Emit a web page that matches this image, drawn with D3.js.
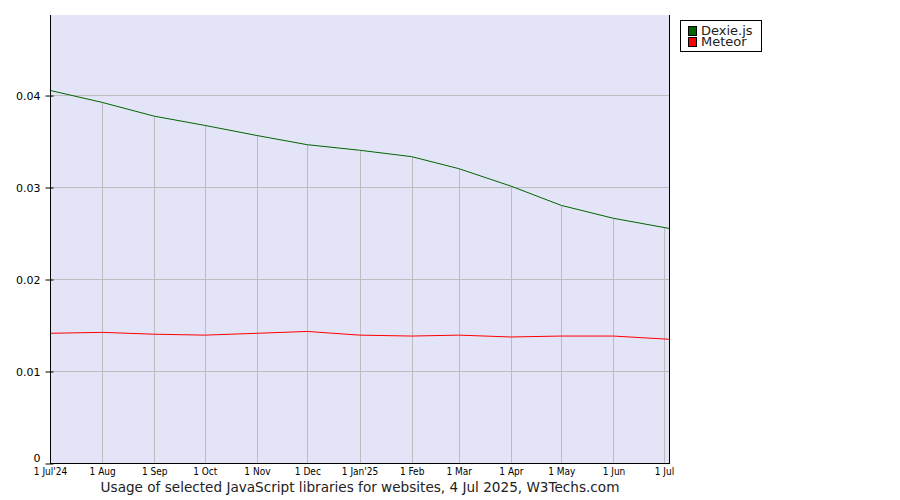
<!DOCTYPE html>
<html><head><meta charset="utf-8">
<script src="https://cdn.jsdelivr.net/npm/d3@7"></script>
<style>body{margin:0;background:#fff}svg{display:block}</style>
</head><body>
<svg id="c" width="900" height="500"></svg>
<script>
const dates = ["2024-07-01","2024-08-01","2024-09-01","2024-10-01","2024-11-01","2024-12-01","2025-01-01","2025-02-01","2025-03-01","2025-04-01","2025-05-01","2025-06-01","2025-07-04"];
const dexie = [0.0405,0.0392,0.0377,0.0367,0.0356,0.0346,0.0340,0.0333,0.0320,0.0301,0.0280,0.0266,0.0255];
const meteor = [0.0141,0.0142,0.0140,0.0139,0.0141,0.0143,0.0139,0.0138,0.0139,0.0137,0.0138,0.0138,0.01345];
const seriesNames = ["Dexie.js","Meteor"];
const seriesColors = ["#006400","#ff0000"];
const tickDates = ["2024-07-01","2024-08-01","2024-09-01","2024-10-01","2024-11-01","2024-12-01","2025-01-01","2025-02-01","2025-03-01","2025-04-01","2025-05-01","2025-06-01","2025-07-01"];
const tickLabels = ["1 Jul'24","1 Aug","1 Sep","1 Oct","1 Nov","1 Dec","1 Jan'25","1 Feb","1 Mar","1 Apr","1 May","1 Jun","1 Jul"];
const yTicks = [0,0.01,0.02,0.03,0.04];
const title = "Usage of selected JavaScript libraries for websites, 4 Jul 2025, W3Techs.com";

const parse = d3.utcParse("%Y-%m-%d");
const D = dates.map(parse);
const svg = d3.select("#c");
const L=50,R=669,T=15,B=463;
const x = d3.scaleUtc().domain([parse("2024-07-01"), parse("2025-07-04")]).range([L,R]);
const y = d3.scaleLinear().domain([0,0.0487]).range([B,T]);

svg.append("rect").attr("x",L).attr("y",T).attr("width",R-L).attr("height",B-T).attr("fill","#e4e4f8");

// horizontal grid
svg.append("g").selectAll("line").data(yTicks.filter(v=>v>0)).join("line")
  .attr("x1",L).attr("x2",R).attr("y1",d=>y(d)+0.5).attr("y2",d=>y(d)+0.5)
  .attr("stroke","#bcbcbc").attr("stroke-width",1);

// vertical grid up to top series
const all = [dexie, meteor];
function topAt(t){
  let best=0;
  for(const s of all){
    const i = d3.bisector(d=>d).right(D,t)-1;
    let v;
    if(i>=D.length-1) v=s[D.length-1];
    else { const f=(t-D[i])/(D[i+1]-D[i]); v=s[i]+(s[i+1]-s[i])*f; }
    best=Math.max(best,v);
  }
  return best;
}
const TD = tickDates.map(parse);
svg.append("g").selectAll("line").data(TD.slice(1)).join("line")
  .attr("x1",d=>Math.round(x(d))+0.5).attr("x2",d=>Math.round(x(d))+0.5)
  .attr("y1",B).attr("y2",d=>y(topAt(d)))
  .attr("stroke","#bcbcbc").attr("stroke-width",1);

// lines
const line = d3.line().x((d,i)=>x(D[i])).y(d=>y(d));
all.forEach((s,k)=>{
  svg.append("path").datum(s).attr("d",line).attr("fill","none")
    .attr("stroke",seriesColors[k]).attr("stroke-width",1);
});

// axes
svg.append("line").attr("x1",L+0.5).attr("x2",L+0.5).attr("y1",T).attr("y2",B+1).attr("stroke","#000");
svg.append("line").attr("x1",R+0.5).attr("x2",R+0.5).attr("y1",T).attr("y2",B+1).attr("stroke","#000");
svg.append("line").attr("x1",L).attr("x2",R+1).attr("y1",B+0.5).attr("y2",B+0.5).attr("stroke","#000");

const yAx = svg.append("g").attr("transform",`translate(${L+0.5},0.5)`)
  .call(d3.axisLeft(y).tickValues(yTicks).tickSize(4).tickPadding(6).tickFormat(d=>d===0?"0":d3.format(".2f")(d)));
yAx.select(".domain").remove();
yAx.selectAll(".tick line").attr("x2",3).attr("x1",-5).attr("stroke","#000");
yAx.selectAll("text").attr("font-family","'DejaVu Sans',Verdana,sans-serif").attr("font-size",11).attr("fill","#000");
yAx.selectAll(".tick").filter(d=>d===0).select("text").attr("dy","-0.2em");

const xAx = svg.append("g").attr("transform",`translate(0,${B})`)
  .call(d3.axisBottom(x).tickValues(TD).tickSize(0).tickPadding(5).tickFormat((d,i)=>tickLabels[i]));
xAx.select(".domain").remove();
xAx.selectAll("text").attr("font-family","'DejaVu Sans Condensed','DejaVu Sans',sans-serif").attr("font-size",10).attr("fill","#000");

svg.append("text").attr("x",360).attr("y",492).attr("text-anchor","middle")
  .attr("font-family","'DejaVu Sans',Verdana,sans-serif").attr("font-size",13.6).attr("fill","#222").text(title);

// legend
const lg = svg.append("g");
lg.append("rect").attr("x",680.5).attr("y",20.5).attr("width",81).attr("height",31).attr("fill","#fff").attr("stroke","#000");
seriesNames.forEach((n,i)=>{
  lg.append("rect").attr("x",688.5).attr("y",26.5+i*11).attr("width",8).attr("height",9).attr("fill",seriesColors[i]).attr("stroke","#000");
  lg.append("text").attr("x",701).attr("y",35+i*11).attr("font-family","'DejaVu Sans',Verdana,sans-serif").attr("font-size",13).attr("fill","#222").text(n);
});
</script>
</body></html>
